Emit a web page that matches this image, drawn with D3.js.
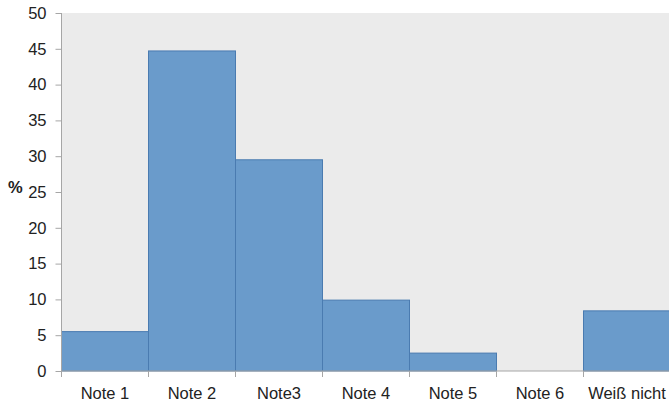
<!DOCTYPE html>
<html>
<head>
<meta charset="utf-8">
<script src="https://cdn.jsdelivr.net/npm/d3@7"></script>
<style>
  html, body { margin: 0; padding: 0; background: #ffffff; }
  svg { display: block; }
  text { font-family: "Liberation Sans", Arial, Helvetica, sans-serif; fill: #222; }
</style>
</head>
<body>
<svg id="chart" width="669" height="403"></svg>
<script>
// Grade distribution (percent of respondents)
const categories = ["Note 1", "Note 2", "Note3", "Note 4", "Note 5", "Note 6", "Weiß nicht"];
const percentages = [5.5, 44.7, 29.5, 9.9, 2.5, 0, 8.4];
const yTicks = [0, 5, 10, 15, 20, 25, 30, 35, 40, 45, 50];
const yLabel = "%";

const svg = d3.select("#chart");
const plotLeft = 61.5, plotRight = 670.5, plotTop = 13, plotBottom = 371;
const fontSize = 16.5;

const x = d3.scaleBand().domain(categories).range([plotLeft, plotRight]).padding(0);
const y = d3.scaleLinear().domain([0, 50]).range([plotBottom, plotTop]);

// plot background
svg.append("rect")
  .attr("x", plotLeft).attr("y", plotTop)
  .attr("width", plotRight - plotLeft).attr("height", plotBottom - plotTop)
  .attr("fill", "#ebebeb");

// bars
svg.append("g").selectAll("rect")
  .data(categories.map((c, i) => ({ c, v: percentages[i] })))
  .join("rect")
  .attr("x", d => x(d.c))
  .attr("y", d => y(d.v))
  .attr("width", x.bandwidth())
  .attr("height", d => y(0) - y(d.v))
  .attr("fill", "#6a9bcb")
  .attr("stroke", "#4a7bb0")
  .attr("stroke-width", 1)
  .attr("display", d => d.v > 0 ? null : "none");

// y axis
const yAxis = svg.append("g")
  .attr("transform", `translate(${plotLeft},0)`)
  .call(d3.axisLeft(y).tickValues(yTicks).tickSize(6).tickPadding(9));
yAxis.select(".domain").attr("stroke", "#a6a6a6").attr("d", `M0,${plotTop}V${plotBottom}`);
yAxis.selectAll(".tick line").attr("stroke", "#a6a6a6");
yAxis.selectAll(".tick text")
  .attr("font-size", fontSize)
  .attr("fill", "#222")
  .attr("font-family", "Liberation Sans, Arial, sans-serif");

// x axis: ticks at band boundaries, labels centred in bands
const xAxisG = svg.append("g").attr("transform", `translate(0,${plotBottom})`);
xAxisG.append("line")
  .attr("x1", plotLeft).attr("x2", plotRight)
  .attr("stroke", "#a6a6a6");
const boundaries = categories.map(c => x(c)).concat([x(categories[categories.length - 1]) + x.bandwidth()]);
xAxisG.selectAll("line.tick")
  .data(boundaries)
  .join("line")
  .attr("class", "tick")
  .attr("x1", d => d).attr("x2", d => d)
  .attr("y1", 0).attr("y2", 6)
  .attr("stroke", "#a6a6a6");
xAxisG.selectAll("text")
  .data(categories)
  .join("text")
  .attr("x", d => x(d) + x.bandwidth() / 2)
  .attr("y", 28)
  .attr("text-anchor", "middle")
  .attr("font-size", fontSize)
  .text(d => d);

// y axis title
svg.append("text")
  .attr("x", 8)
  .attr("y", 193)
  .attr("font-size", fontSize)
  .attr("font-weight", "bold")
  .text(yLabel);
</script>
</body>
</html>
